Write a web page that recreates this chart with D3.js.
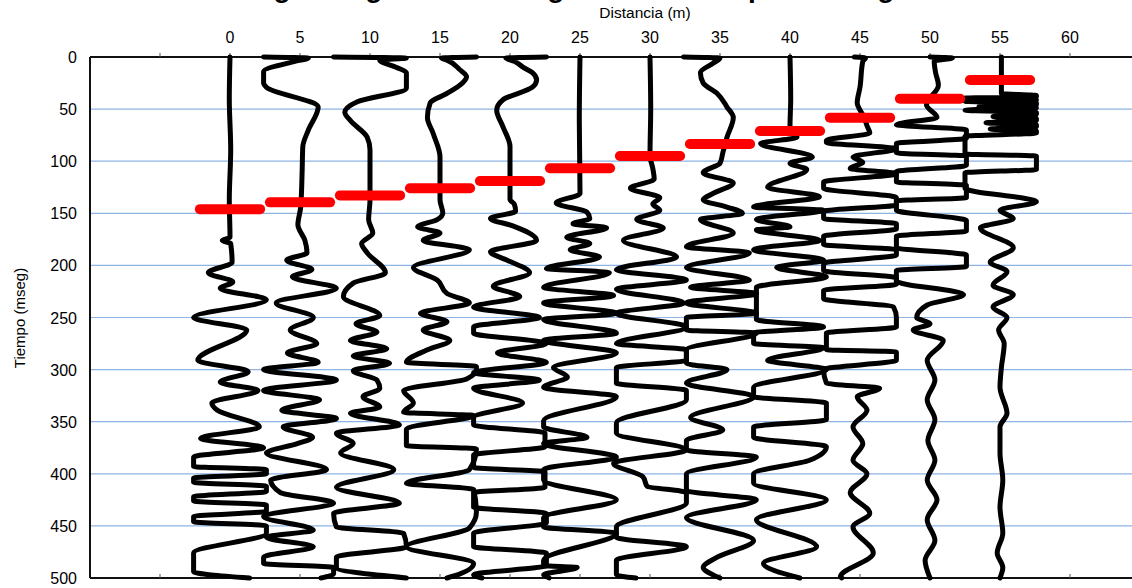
<!DOCTYPE html>
<html><head><meta charset="utf-8">
<script src="https://cdn.jsdelivr.net/npm/d3@7"></script>
<style>
html,body{margin:0;padding:0;background:#fff;}
svg{display:block;}
text{font-family:"Liberation Sans",Arial,sans-serif;}
</style></head>
<body>
<svg id="chart" width="1132" height="588"></svg>
<script>
// ---------- data ----------
const titleText = "Sismograma general del registro con tiempos de llegada";
const xLabel = "Distancia (m)";
const yLabel = "Tiempo (mseg)";
const distances = [0,5,10,15,20,25,30,35,40,45,50,55];
const xTickLabels = [0,5,10,15,20,25,30,35,40,45,50,55,60];
const xTickMarks = [-5,0,5,10,15,20,25,30,35,40,45,50,55,60];
const yTicks = [0,50,100,150,200,250,300,350,400,450,500];
const yGrid = [50,100,150,200,250,300,350,400,450];
// first-arrival picks (ms) per trace
const picks = [146,139.5,132.8,126,119,106.8,95,83.5,71,58.2,40,22];

// traces: [time ms, amplitude m] vertices
const trace0 = [[0,0],[40,-0.05],[89,0.05],[137,-0.05],[173,0],[176,-0.55],[179,0.05],[197,0.15],[207,-1.55],[216,0.2],[222,-0.7],[233,2.6],[250,-2.6],[262,1.2],[291,-2.3],[302,1.3],[312,-0.7],[320,2.0],[332,-1.3],[339,-0.9],[355,2.1],[366,-2.1],[375,2.4],[384,-2.6],[393,-2.6],[396,2.6],[400,2.6],[404,-2.6],[408,-2.6],[412,2.6],[417,2.6],[422,-2.6],[426,-2.6],[430,2.6],[436,2.6],[441,-2.6],[446,-2.6],[450,2.6],[457,2.6],[476,-2.6],[494,-2.6],[500,1.4]];
const trace5 = [[0,-2.6],[1,0.6],[4,-0.3],[14,-2.6],[25,-2.6],[29,-2.4],[48,1.3],[70,0.6],[86,0.2],[111,0.15],[144,0.05],[161,-0.15],[176,0.35],[188,0.5],[195,-0.95],[204,0.85],[211,-0.55],[222,2.6],[236,-1.7],[250,0.95],[262,-0.7],[275,1.2],[284,-0.9],[293,1.3],[300,-2.6],[310,2.6],[320,-2.6],[329,1.4],[339,-1.3],[347,2.6],[355,-1.2],[365,0.9],[371,-0.2],[380,-2.4],[396,1.9],[406,-2.1],[418,-1.4],[428,2.4],[441,-2.6],[454,0.95],[461,-2.4],[470,0.95],[480,-2.6],[486,-2.6],[490,2.4],[496,2.4],[500,1.5]];
const trace10 = [[0,-2.6],[1,2.6],[3,0.7],[10,1.9],[15,2.6],[30,2.6],[43,-0.9],[53,-1.8],[61,-1.4],[77,-0.2],[89,0],[137,0],[156,-0.1],[169,0.2],[179,-0.6],[188,-0.2],[207,1.1],[217,-1.2],[230,-1.9],[248,0.7],[256,-1.0],[264,0.5],[272,-1.4],[280,1.2],[287,-1.2],[294,1.4],[301,-1.2],[310,0.5],[318,0.7],[326,-0.5],[336,0.7],[342,-1.4],[353,2.1],[361,-2.4],[371,-1.2],[380,-2.1],[396,1.7],[413,-2.4],[428,2.1],[438,-2.6],[451,-2.4],[457,2.4],[470,2.6],[480,-2.4],[490,-2.4],[500,2.6]];
const trace15 = [[0,2.6],[1,0.1],[3,0.5],[12,1.4],[19,1.9],[25,1.6],[35,0.5],[44,-0.7],[58,-0.9],[73,-0.5],[96,0],[137,0],[150,0.2],[156,-0.2],[163,-1.6],[169,0],[176,-1.2],[185,2.1],[202,-1.9],[214,-0.2],[227,0.5],[236,2.1],[246,-1.4],[254,0.5],[262,-1.2],[272,0.7],[281,-0.9],[293,-2.4],[297,2.6],[300,2.6],[309,1.9],[320,-2.6],[332,-1.9],[341,-2.6],[344,2.4],[357,-2.4],[373,-2.4],[376,2.6],[396,2.1],[409,-2.4],[415,2.4],[437,2.6],[452,2.1],[470,-2.4],[486,2.4],[498,1.0],[500,0.5]];
const trace20 = [[0,2.6],[1,-0.3],[4,0.3],[10,0.95],[15,1.6],[22,1.9],[29,1.6],[41,-0.5],[51,-0.95],[67,-0.5],[86,0],[137,0],[141,0.3],[148,0.4],[155,-1.4],[162,0.2],[176,1.9],[187,-1.4],[195,-0.2],[207,1.4],[220,-1.2],[230,0.7],[240,-2.6],[250,2.1],[259,-2.6],[265,-2.6],[275,2.6],[284,-0.9],[293,2.6],[303,-2.6],[310,2.1],[318,-2.6],[332,0.9],[346,-2.6],[353,-2.6],[361,2.5],[374,2.5],[382,-2.6],[394,-2.6],[398,2.5],[413,2.5],[418,-2.6],[432,-2.6],[438,2.6],[447,2.6],[457,-2.6],[470,-2.6],[476,2.6],[488,2.6],[497,-2.6],[500,-2.0]];
const trace25 = [[0,0],[60,-0.05],[131,0],[140,-1.7],[149,0.5],[155,0.7],[160,-0.5],[164,1.9],[173,-0.95],[179,0.7],[185,-0.7],[192,1.4],[203,-2.4],[207,2.1],[221,-2.6],[229,2.4],[236,-2.6],[246,2.6],[252,-2.6],[265,2.6],[272,-2.6],[284,2.6],[298,-1.9],[307,-0.9],[317,-2.6],[326,2.6],[349,-2.6],[355,-2.6],[365,0.5],[371,-2.6],[384,2.6],[396,-2.6],[406,-2.6],[425,2.6],[442,-2.6],[451,-2.6],[457,2.6],[483,-2.6],[488,-2.6],[490,-0.2],[497,-2.6],[500,-2.2]];
const trace30 = [[0,0],[50,0.05],[95,0],[107,0.2],[117,0.3],[126,-1.4],[135,0.7],[141,0.2],[147,0.7],[156,-0.95],[164,0.95],[176,-1.9],[192,1.9],[204,-2.4],[214,2.6],[223,-2.4],[236,2.4],[246,-2.4],[259,2.6],[275,-2.4],[281,2.6],[291,2.6],[298,-2.4],[313,-2.4],[320,2.6],[329,2.6],[351,-2.4],[361,-2.4],[377,2.6],[390,-2.6],[403,-0.5],[412,-0.2],[418,2.6],[428,2.6],[451,-2.4],[461,-2.4],[470,2.6],[483,-2.4],[497,-2.4],[500,-1.0]];
const trace35 = [[0,-2.6],[1,0],[6,-0.5],[15,-1.4],[25,-1.2],[35,-0.2],[48,0.5],[58,0.95],[77,0.5],[92,0.2],[102,0],[111,-1.2],[121,0.95],[131,-0.5],[137,-1.2],[144,0.5],[150,1.6],[156,-1.4],[169,0.95],[182,-2.4],[188,2.1],[202,-2.4],[214,2.1],[221,-2.1],[227,2.6],[236,-2.4],[246,2.6],[250,-2.4],[262,-2.4],[265,2.6],[281,-2.4],[294,-2.4],[300,0.5],[313,-2.4],[326,2.4],[346,-2.1],[358,0.2],[368,-2.4],[377,-2.4],[384,2.6],[400,-2.4],[416,-2.4],[425,2.6],[442,-2.4],[464,2.4],[480,-0.2],[490,-1.2],[497,-0.5],[500,0]];
const trace40 = [[0,0],[40,0.05],[67,0],[77,0.5],[83,-2.1],[96,1.6],[102,0],[108,1.2],[125,-1.6],[134,2.1],[144,-2.6],[147,2.4],[156,-2.4],[163,0],[166,-2.4],[176,2.1],[185,-2.6],[195,2.4],[202,-0.95],[211,2.6],[221,-2.4],[236,-2.4],[252,-2.4],[259,2.4],[265,-2.6],[275,-2.6],[279,2.4],[291,-1.6],[300,2.6],[317,-2.6],[326,-2.6],[332,2.6],[348,2.6],[355,-2.6],[365,-2.6],[374,2.6],[387,1.4],[400,-2.6],[409,-2.6],[425,2.6],[444,-2.4],[470,1.9],[486,-1.9],[500,0.7]];
const trace45 = [[0,-0.4],[1,0.4],[4,0.2],[29,0],[44,-0.2],[58,0.3],[66,0.5],[73,0.7],[80,-2.4],[82,-2.4],[88,2.6],[96,-0.5],[101,0.2],[107,-0.7],[112,2.6],[120,-2.6],[126,-2.6],[135,2.6],[142,2.6],[148,-2.6],[155,-2.6],[160,2.6],[165,2.6],[172,-2.6],[180,-2.6],[185,2.6],[190,2.6],[198,-2.6],[205,-2.6],[212,2.6],[218,2.6],[224,-2.6],[232,-2.6],[240,2.4],[250,2.6],[259,2.6],[265,-2.4],[281,-2.4],[283,2.6],[291,2.6],[300,-2.6],[313,-2.4],[318,1.4],[326,-0.2],[339,0.5],[355,-0.5],[371,0.2],[387,-0.5],[400,0.5],[418,-0.7],[438,0.7],[451,-0.5],[476,0.95],[499,-1.4],[500,-1.3]];
const trace50 = [[0,0],[1,1.6],[4,0.3],[15,0.4],[27,0.6],[46,-0.25],[58,0.5],[65,-2.4],[70,2.6],[78,2.6],[83,-2.4],[92,-2.4],[95,2.6],[104,2.6],[110,-2.4],[120,-2.4],[123,2.6],[135,2.6],[138,-2.4],[147,-2.4],[157,2.6],[167,2.6],[172,-2.4],[183,-2.4],[190,2.6],[201,2.6],[205,-2.4],[215,-2.4],[228,2.4],[238,-0.2],[250,-0.95],[256,0],[262,-1.2],[272,0.95],[291,-0.2],[310,0.35],[329,-0.2],[348,0.35],[368,-0.15],[387,0.35],[406,-0.2],[425,0.5],[444,-0.2],[464,0.35],[483,-0.35],[500,0]];
const trace55 = [[0,0.1],[35,0.1],[37,2.6],[38,2.6],[39.5,-2.5],[41,2.6],[42.5,-2.5],[44,2.6],[46,2.6],[47.5,-1.5],[49,2.6],[51,-2.5],[53,2.6],[55,2.6],[57,-0.5],[59,2.6],[61,2.6],[63,-1.0],[65,2.6],[67,2.6],[69,-0.7],[71,2.6],[73,2.6],[76,-2.5],[93,-2.5],[95,2.6],[108,2.6],[111,-2.5],[126,-2.5],[139,2.6],[147,0],[155,0.95],[164,-1.4],[183,0.95],[197,-0.7],[206,0.5],[219,-0.5],[228,0.95],[240,-0.5],[250,0.5],[262,-0.1],[275,0.3],[298,0.1],[317,0],[342,0.5],[355,0],[380,0],[406,0.2],[432,0],[457,0.2],[476,-0.2],[490,0.2],[500,0]];
const traces = [trace0,trace5,trace10,trace15,trace20,trace25,trace30,trace35,trace40,trace45,trace50,trace55];
const clipAmp = 2.6;      // trace saturation (m)
const pickHalf = 2.15;    // half length of pick bars (m)

// ---------- layout ----------
const W = 1132, H = 588;
const svg = d3.select("#chart");
const x = d3.scaleLinear().domain([-10, 65]).range([90, 1140]);
const y = d3.scaleLinear().domain([0, 500]).range([57, 578]);
const x0 = 90, x1 = W, y0 = y(0), y1 = y(500);

// grid
svg.append("g").selectAll("line").data(yGrid).join("line")
  .attr("x1", x0).attr("x2", x1)
  .attr("y1", d => y(d)).attr("y2", d => y(d))
  .attr("stroke", "#8db4e3").attr("stroke-width", 1.2);

// frame
const frame = svg.append("g").attr("stroke", "#111").attr("stroke-width", 2);
frame.append("line").attr("x1", x0).attr("x2", x1).attr("y1", y0).attr("y2", y0);
frame.append("line").attr("x1", x0).attr("x2", x1).attr("y1", y1).attr("y2", y1);
frame.append("line").attr("x1", x0).attr("x2", x0).attr("y1", y0).attr("y2", y1);

// top axis ticks (outside) and bottom ticks (inside)
svg.append("g").selectAll("line").data(xTickMarks).join("line")
  .attr("x1", d => x(d)).attr("x2", d => x(d))
  .attr("y1", y0).attr("y2", y0 - 4).attr("stroke", "#555").attr("stroke-width", 1);
svg.append("g").selectAll("line").data(xTickMarks).join("line")
  .attr("x1", d => x(d)).attr("x2", d => x(d))
  .attr("y1", y1).attr("y2", y1 - 4).attr("stroke", "#555").attr("stroke-width", 1);

// traces
const line = d3.line()
  .x(d => d.x).y(d => d.y)
  .curve(d3.curveMonotoneY);
svg.append("g").selectAll("path").data(traces).join("path")
  .attr("d", (tr, i) => line(tr.map(([t, a]) => ({
     x: x(distances[i] + Math.max(-clipAmp, Math.min(clipAmp, a))),
     y: y(t)}))))
  .attr("fill", "none").attr("stroke", "#000")
  .attr("stroke-width", 5).attr("stroke-linejoin", "round").attr("stroke-linecap", "round");

// picks
svg.append("g").selectAll("line").data(picks).join("line")
  .attr("x1", (p, i) => x(distances[i] - pickHalf))
  .attr("x2", (p, i) => x(distances[i] + pickHalf))
  .attr("y1", p => y(p)).attr("y2", p => y(p))
  .attr("stroke", "#ff0000").attr("stroke-width", 10).attr("stroke-linecap", "round");

// tick labels
svg.append("g").selectAll("text").data(xTickLabels).join("text")
  .attr("x", d => x(d)).attr("y", 43)
  .attr("text-anchor", "middle").attr("font-size", 16).attr("fill", "#000")
  .text(d => d);
svg.append("g").selectAll("text").data(yTicks).join("text")
  .attr("x", 77).attr("y", d => y(d) + 6)
  .attr("text-anchor", "end").attr("font-size", 16).attr("fill", "#000")
  .text(d => d);

// axis titles
svg.append("text").attr("x", 645).attr("y", 18)
  .attr("text-anchor", "middle").attr("font-size", 15.5).text(xLabel);
svg.append("text").attr("transform", "translate(25,318) rotate(-90)")
  .attr("text-anchor", "middle").attr("font-size", 15).text(yLabel);

// title (mostly cropped above the frame, as in the source)
svg.append("text").attr("x", 566).attr("y", -3)
  .attr("text-anchor", "middle").attr("font-size", 28).attr("font-weight", "bold")
  .text(titleText);
</script>
</body></html>
